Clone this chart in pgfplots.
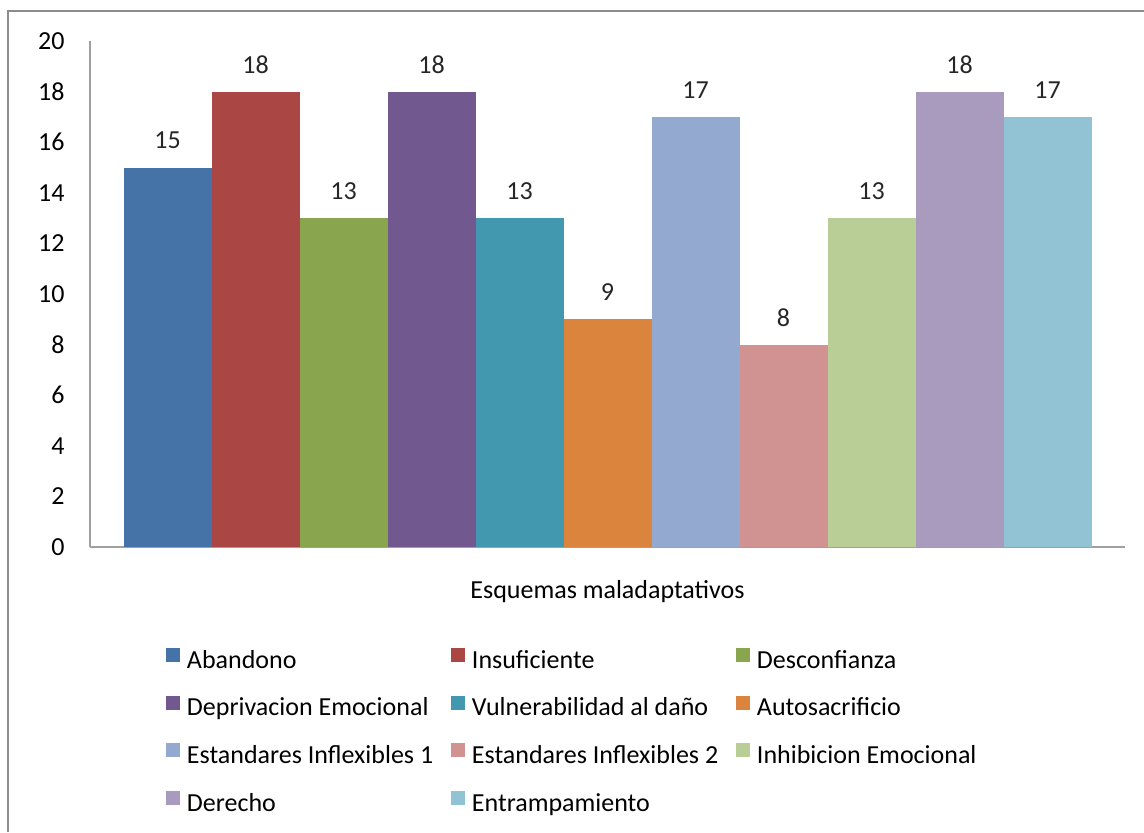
\documentclass[border=0pt]{standalone}
\usepackage{pgfplots}
\pgfplotsset{compat=1.18}
\usepackage{fontspec}
\setmainfont{Carlito}

\definecolor{cA}{HTML}{4572A7}
\definecolor{cB}{HTML}{AA4643}
\definecolor{cC}{HTML}{89A54E}
\definecolor{cD}{HTML}{71588F}
\definecolor{cE}{HTML}{4198AF}
\definecolor{cF}{HTML}{DB843D}
\definecolor{cG}{HTML}{93A9CF}
\definecolor{cH}{HTML}{D19392}
\definecolor{cI}{HTML}{B9CD96}
\definecolor{cJ}{HTML}{A99BBD}
\definecolor{cK}{HTML}{92C3D4}
\definecolor{framegray}{HTML}{8C8C8C}
\definecolor{axgray}{HTML}{A0A0A0}

\newcommand\cf{\fontsize{13pt}{15pt}\selectfont}
% fixed-width legend cells give equally wide legend columns
\newcommand\legcell[1]{\makebox[132pt][l]{#1}}

\pgfplotsset{
  sq/.style={draw=none, legend image code/.code={\fill (0pt,0pt) rectangle (7pt,7pt);}},
}

\begin{document}
\begin{tikzpicture}
\useasboundingbox (0pt,0pt) rectangle (572pt,416pt);
\draw[line width=1pt, framegray] (4pt,0pt) -- (4pt,410.5pt) -- (572pt,410.5pt);
\begin{axis}[
  at={(45pt,142.5pt)}, anchor=south west,
  scale only axis, width=517.5pt, height=253pt,
  ybar=0pt, bar width=44pt,
  xmin=-0.5, xmax=0.5, ymin=0, ymax=20,
  xtick=\empty, ytick={0,2,...,20},
  axis lines*=left, axis line style={axgray, line width=0.8pt, -},
  major tick length=0pt,
  yticklabel style={font=\cf, inner sep=0pt, anchor=east, xshift=-12.5pt},
  /pgf/number format/assume math mode=true,
  clip=false,
  nodes near coords,
  nodes near coords style={font=\cf, inner sep=0pt, anchor=south, yshift=9pt, text=black!85},
  xlabel={Esquemas maladaptativos},
  xlabel style={font=\cf, at={(axis description cs:0.5,-0.1008)}, anchor=base, inner sep=0pt},
  legend columns=3,
  legend style={at={(0.0734,-0.1996)}, anchor=north west, draw=none, inner sep=0pt, outer sep=0pt,
    row sep=10.85pt,
    nodes={font=\cf, inner sep=0pt, text height=9pt, text depth=3pt},
    /tikz/every odd column/.style={column sep=3.5pt},
    /tikz/every even column/.style={column sep=0pt}},
  legend cell align=left,
]
\addplot[fill=cA, sq] coordinates {(0,15)};
\addplot[fill=cB, sq] coordinates {(0,18)};
\addplot[fill=cC, sq] coordinates {(0,13)};
\addplot[fill=cD, sq] coordinates {(0,18)};
\addplot[fill=cE, sq] coordinates {(0,13)};
\addplot[fill=cF, sq] coordinates {(0,9)};
\addplot[fill=cG, sq] coordinates {(0,17)};
\addplot[fill=cH, sq] coordinates {(0,8)};
\addplot[fill=cI, sq] coordinates {(0,13)};
\addplot[fill=cJ, sq] coordinates {(0,18)};
\addplot[fill=cK, sq] coordinates {(0,17)};
\legend{\legcell{Abandono}, \legcell{Insuficiente}, \legcell{Desconfianza},
  \legcell{Deprivacion Emocional}, \legcell{Vulnerabilidad al daño}, \legcell{Autosacrificio},
  \legcell{Estandares Inflexibles 1}, \legcell{Estandares Inflexibles 2}, \legcell{Inhibicion Emocional},
  \legcell{Derecho}, \legcell{Entrampamiento}}
\end{axis}
\end{tikzpicture}
\end{document}
